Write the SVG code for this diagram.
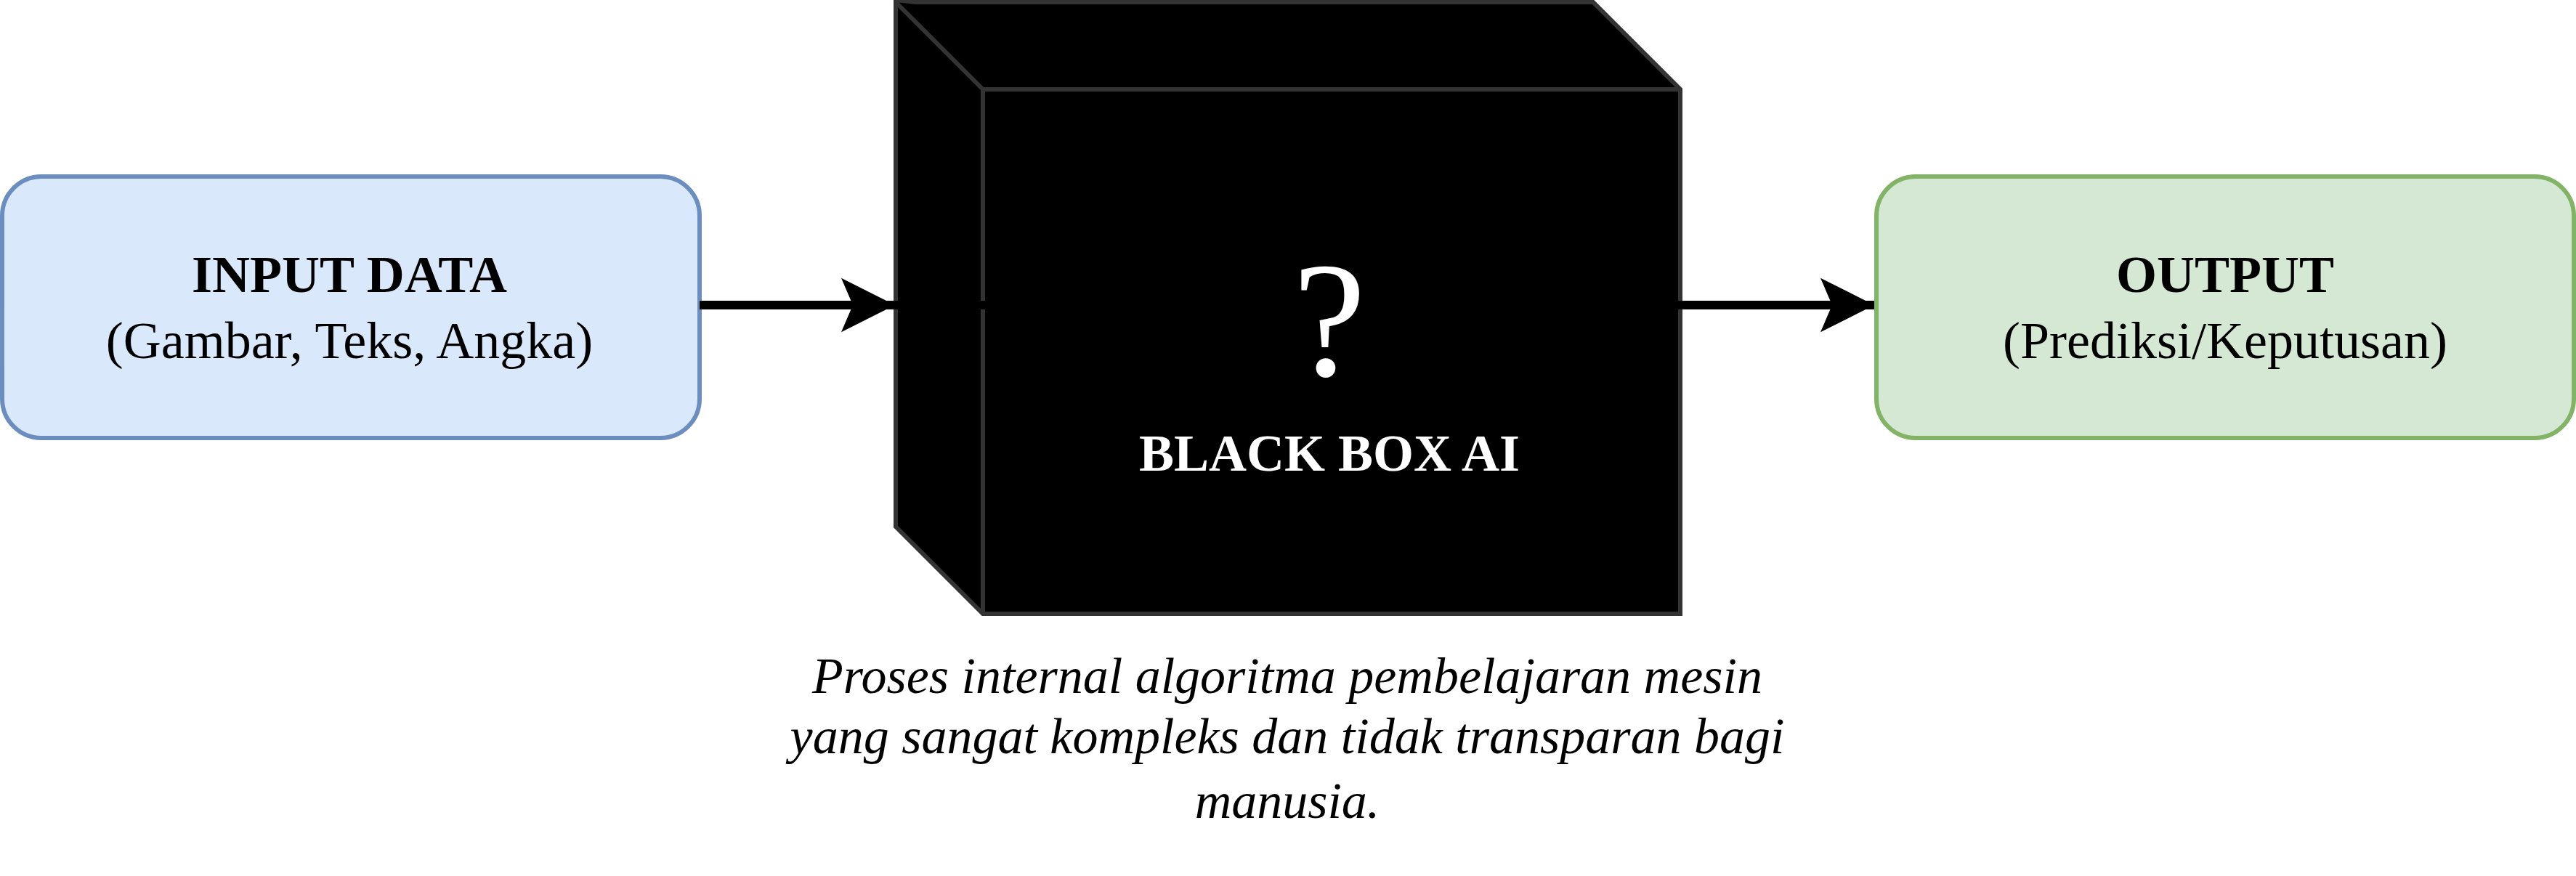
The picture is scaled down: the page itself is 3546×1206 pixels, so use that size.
<svg xmlns="http://www.w3.org/2000/svg" width="3546" height="1206" viewBox="0 0 3546 1206">
  <style>
    text { font-family: "Liberation Serif", "Times New Roman", serif; text-anchor: middle; }
    .t { font-size: 72px; fill: #000000; }
    .b { font-weight: bold; }
    .w { fill: #ffffff; }
    .cap { font-size: 70px; font-style: italic; fill: #000000; }
    .edge { stroke: #000000; stroke-width: 12; fill: none; }
    .cube { fill: #000000; stroke: #333333; stroke-width: 6; stroke-linejoin: miter; }
  </style>
  <defs>
    <marker id="arrow" markerUnits="userSpaceOnUse" markerWidth="80" markerHeight="80" viewBox="0 0 80 80" refX="74" refY="40" orient="auto">
      <path d="M0,2.7 L74,40 L0,77.3 L16,40 Z" fill="#000000"/>
    </marker>
  </defs>
  <rect width="3546" height="1206" fill="#ffffff"/>

  <g id="input-data">
    <rect x="3" y="243" width="960" height="360" rx="54" ry="54" fill="#dae8fc" stroke="#6c8ebf" stroke-width="6"/>
    <text class="t b" x="481" y="402">INPUT DATA</text>
    <text class="t" x="481" y="493">(Gambar, Teks, Angka)</text>
  </g>

  <g id="black-box-ai">
    <path class="cube" d="M1233,3 L2193,3 L2313,123 L2313,845 L1353,845 L1233,725 Z"/>
    <path class="cube" d="M1233,3 L1353,123 L2313,123 M1353,123 L1353,845" fill="none"/>
    <text class="w" x="1830" y="517" style="font-size:226px">?</text>
    <text class="t b w" x="1830" y="648">BLACK BOX AI</text>
  </g>

  <g id="output">
    <rect x="2583" y="243" width="960" height="360" rx="54" ry="54" fill="#d5e8d4" stroke="#82b366" stroke-width="6"/>
    <text class="t b" x="3063" y="402">OUTPUT</text>
    <text class="t" x="3063" y="493">(Prediksi/Keputusan)</text>
  </g>

  <g id="caption">
    <text class="cap" x="1772" y="954">Proses internal algoritma pembelajaran mesin</text>
    <text class="cap" x="1772" y="1037">yang sangat kompleks dan tidak transparan bagi</text>
    <text class="cap" x="1772" y="1126">manusia.</text>
  </g>

  <g id="connectors">
    <line class="edge" x1="963" y1="420" x2="1232" y2="420" marker-end="url(#arrow)"/>
    <line class="edge" x1="1229" y1="420" x2="1358" y2="420"/>
    <line class="edge" x1="2300" y1="420" x2="2580" y2="420" marker-end="url(#arrow)"/>
  </g>
</svg>
